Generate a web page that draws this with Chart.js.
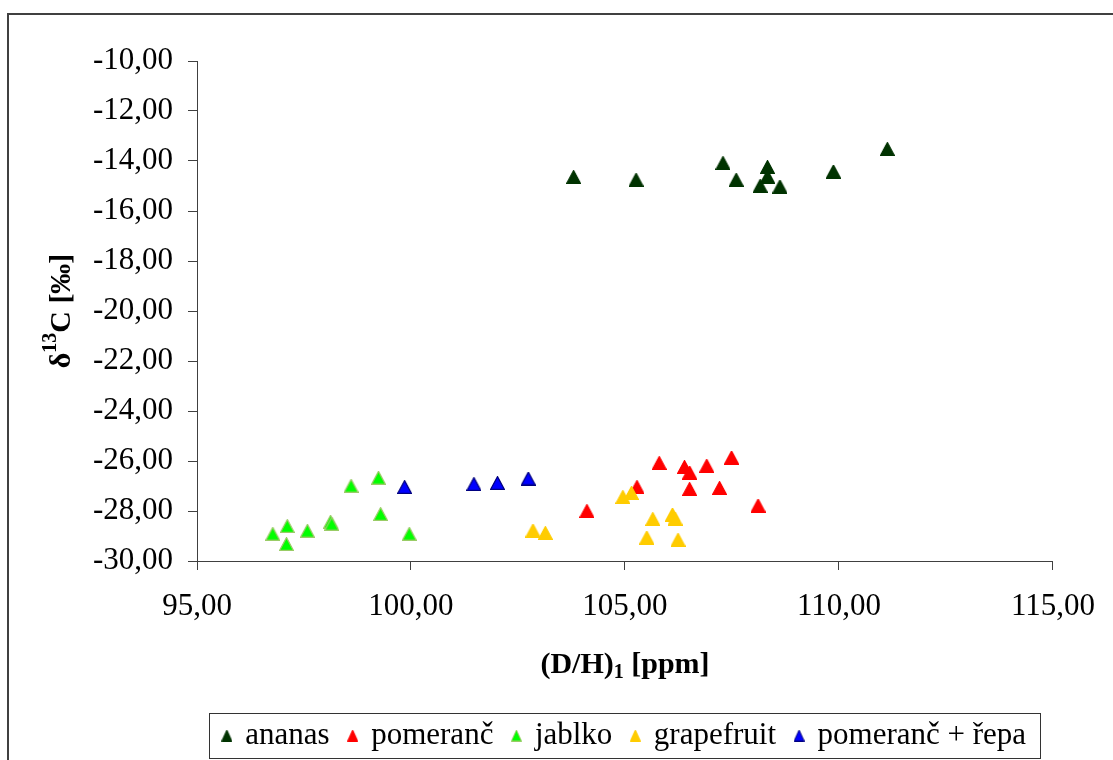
<!DOCTYPE html>
<html>
<head>
<meta charset="utf-8">
<script src="https://cdn.jsdelivr.net/npm/chart.js@4.4.0/dist/chart.umd.min.js"></script>
<style>
  html, body { margin: 0; padding: 0; background: #fff; }
  #wrap { width: 1113px; height: 760px; position: relative; overflow: hidden; }
</style>
</head>
<body>
<div id="wrap"><canvas id="chart" width="1113" height="760"></canvas></div>
<script>
// values
const ananasX = [103.80, 105.26, 107.29, 107.60, 108.33, 108.33, 108.16, 108.62, 109.87, 111.13];
const ananasY = [-14.64, -14.75, -14.08, -14.75, -14.24, -14.62, -14.99, -15.02, -14.42, -13.52];

const pomerancX = [104.11, 105.28, 105.80, 106.39, 106.51, 106.51, 106.91, 107.21, 107.49, 108.11];
const pomerancY = [-28.00, -27.04, -26.08, -26.24, -26.46, -27.12, -26.19, -27.08, -25.86, -27.78];

const jablkoX = [96.77, 97.09, 97.11, 97.58, 98.12, 98.15, 98.60, 99.24, 99.29, 99.96];
const jablkoY = [-28.91, -29.32, -28.60, -28.79, -28.43, -28.51, -26.99, -26.67, -28.12, -28.91];

const grapefruitX = [102.85, 103.14, 104.95, 105.15, 105.51, 105.65, 106.11, 106.17, 106.24];
const grapefruitY = [-28.78, -28.88, -27.44, -27.28, -29.06, -28.32, -28.14, -28.30, -29.15];

const repaX = [99.85, 101.47, 102.02, 102.74];
const repaY = [-27.04, -26.92, -26.88, -26.70];

const seriesNames = ['ananas', 'pomeranč', 'jablko', 'grapefruit', 'pomeranč + řepa'];
const seriesX = [ananasX, pomerancX, jablkoX, grapefruitX, repaX];
const seriesY = [ananasY, pomerancY, jablkoY, grapefruitY, repaY];
const fills = ['#003300', '#FF0000', '#00FF00', '#FFCC00', '#0000FF'];
const strokes = ['#003300', '#FF0000', '#99CC66', '#FFCC00', '#000080'];

const xTicks = [95, 100, 105, 110, 115];
const yTicks = [-30, -28, -26, -24, -22, -20, -18, -16, -14, -12, -10];

const SERIF = '"Liberation Serif", "Times New Roman", serif';
const fmt = v => v.toFixed(2).replace('.', ',');

// Excel-like triangle marker, centred on its bounding box
function triangle(w, h, fill, stroke, lw) {
  const c = document.createElement('canvas');
  c.width = w; c.height = h;
  const g = c.getContext('2d');
  const m = lw / 2;
  g.beginPath();
  g.moveTo(w / 2, m);
  g.lineTo(w - m, h - m);
  g.lineTo(m, h - m);
  g.closePath();
  g.fillStyle = fill;
  g.fill();
  g.lineWidth = lw;
  g.strokeStyle = stroke;
  g.stroke();
  return c;
}

const dataMarks = fills.map((f, i) => triangle(15, 14, f, strokes[i], 1.2));
const legendMarks = fills.map((f, i) => triangle(11, 12, f, strokes[i], 1));

const datasets = seriesNames.map((name, i) => ({
  label: name,
  data: seriesX[i].map((x, j) => ({ x: x, y: seriesY[i][j] })),
  pointStyle: dataMarks[i],
  pointRadius: 7,
  backgroundColor: fills[i],
  borderColor: strokes[i],
  order: seriesNames.length - i
}));

function drawRuns(ctx, runs, x, y) {
  let w = 0;
  runs.forEach(r => { ctx.font = r.font; r.w = ctx.measureText(r.text).width; w += r.w; });
  let cx = x - w / 2;
  runs.forEach(r => { ctx.font = r.font; ctx.fillText(r.text, cx, y + r.dy); cx += r.w; });
}

const decorations = {
  id: 'decorations',
  beforeDraw(chart) {
    const ctx = chart.ctx;
    ctx.save();
    ctx.strokeStyle = '#404040';
    ctx.lineWidth = 2;
    ctx.strokeRect(8, 14, chart.width + 20, chart.height + 20);
    ctx.restore();
  },
  afterDraw(chart) {
    const ctx = chart.ctx;
    const a = chart.chartArea;
    ctx.save();
    ctx.fillStyle = '#000';
    ctx.textAlign = 'left';
    ctx.textBaseline = 'alphabetic';
    const big = 'bold 30px ' + SERIF;
    const small = 'bold 20px ' + SERIF;

    // x axis title
    drawRuns(ctx, [
      { text: '(D/H)', font: big, dy: 0 },
      { text: '1', font: small, dy: 5 },
      { text: ' [ppm]', font: big, dy: 0 }
    ], (a.left + a.right) / 2, a.bottom + 112);

    // y axis title
    ctx.translate(a.left - 127, (a.top + a.bottom) / 2);
    ctx.rotate(-Math.PI / 2);
    drawRuns(ctx, [
      { text: 'δ', font: big, dy: 0 },
      { text: '13', font: small, dy: -14 },
      { text: 'C [‰]', font: big, dy: 0 }
    ], 0, 0);
    ctx.restore();

    // legend frame
    const hb = chart.legend.legendHitBoxes;
    if (hb && hb.length) {
      const first = hb[0], last = hb[hb.length - 1];
      const left = first.left - 15;
      const right = last.left + last.width + 14;
      const top = first.top - 7.5;
      const bottom = first.top + 37.5;
      ctx.save();
      ctx.strokeStyle = '#333';
      ctx.lineWidth = 1;
      ctx.strokeRect(Math.round(left) + 0.5, Math.round(top) + 0.5, Math.round(right - left), Math.round(bottom - top));
      ctx.restore();
    }
  }
};

const axisColor = '#404040';

new Chart(document.getElementById('chart'), {
  type: 'scatter',
  data: { datasets: datasets },
  options: {
    responsive: false,
    animation: false,
    devicePixelRatio: 1,
    layout: { padding: { top: 61, right: 52, bottom: 0, left: 0 } },
    plugins: {
      tooltip: { enabled: false },
      legend: {
        position: 'bottom',
        fullSize: false,
        maxHeight: 60,
        labels: {
          usePointStyle: true,
          boxWidth: 6,
          boxHeight: 11,
          padding: 20,
          color: '#000',
          font: { family: SERIF, size: 31 },
          sort: (a, b) => a.datasetIndex - b.datasetIndex,
          generateLabels(chart) {
            const items = Chart.defaults.plugins.legend.labels.generateLabels(chart);
            items.forEach(it => { it.pointStyle = legendMarks[it.datasetIndex]; });
            return items;
          }
        }
      }
    },
    scales: {
      x: {
        type: 'linear',
        min: xTicks[0],
        max: xTicks[xTicks.length - 1],
        afterFit(scale) { scale.height = 139; },
        afterBuildTicks(scale) { scale.ticks = xTicks.map(v => ({ value: v })); },
        ticks: {
          color: '#000',
          padding: 18,
          font: { family: SERIF, size: 31 },
          callback: v => fmt(v)
        },
        grid: { drawOnChartArea: false, drawTicks: true, tickLength: 9, color: axisColor, lineWidth: 1 },
        border: { display: true, color: axisColor, width: 1 }
      },
      y: {
        type: 'linear',
        min: yTicks[0],
        max: yTicks[yTicks.length - 1],
        afterFit(scale) { scale.width = 197; },
        afterBuildTicks(scale) { scale.ticks = yTicks.map(v => ({ value: v })); },
        ticks: {
          color: '#000',
          padding: 15,
          font: { family: SERIF, size: 31 },
          callback: v => fmt(v)
        },
        grid: { drawOnChartArea: false, drawTicks: true, tickLength: 9, color: axisColor, lineWidth: 1 },
        border: { display: true, color: axisColor, width: 1 }
      }
    }
  },
  plugins: [decorations]
});
</script>
</body>
</html>
